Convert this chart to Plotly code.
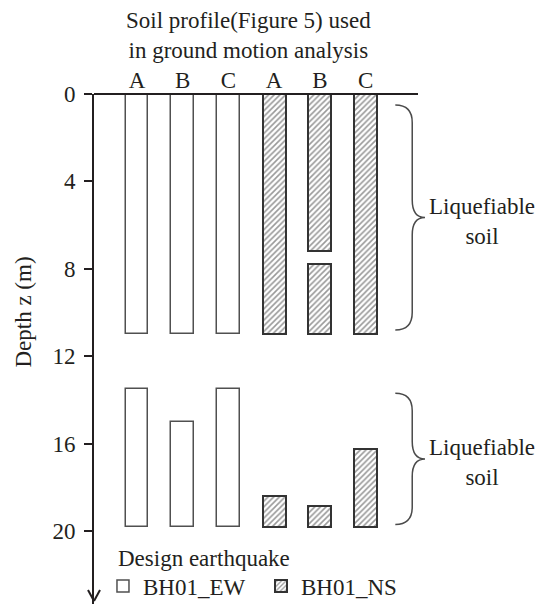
import plotly.graph_objects as go

# Soil profile columns and their depth ranges (m)
profiles = ["A", "B", "C"]

ew_profile = ["A", "A", "B", "B", "C", "C"]
ew_top = [0.0, 13.5, 0.0, 15.0, 0.0, 13.5]
ew_bottom = [11.0, 19.8, 11.0, 19.8, 11.0, 19.8]

ns_profile = ["A", "A", "B", "B", "B", "C", "C"]
ns_top = [0.0, 18.4, 0.0, 7.8, 18.85, 0.0, 16.25]
ns_bottom = [11.0, 19.8, 7.2, 11.0, 19.8, 11.0, 19.8]

# Liquefiable soil zones marked with braces (top, bottom depth)
liq_zones = [(0.5, 10.8), (13.7, 19.7)]

depth_ticks = [0, 4, 8, 12, 16, 20]

INK = "#231f20"
FONT = "Liberation Serif"
FS = 23

col_of = {p: i for i, p in enumerate(profiles)}
ew_x = [col_of[p] for p in ew_profile]
ns_x = [3 + col_of[p] for p in ns_profile]

fig = go.Figure()
fig.add_trace(go.Bar(
    x=ew_x, y=[b - t for t, b in zip(ew_top, ew_bottom)], base=ew_top,
    width=0.5, name="BH01_EW",
    marker=dict(color="white", line=dict(color="#505050", width=1.5)),
))
fig.add_trace(go.Bar(
    x=ns_x, y=[b - t for t, b in zip(ns_top, ns_bottom)], base=ns_top,
    width=0.5, name="BH01_NS",
    marker=dict(color="white", line=dict(color="#333333", width=2),
                pattern=dict(shape="/", fgcolor="#333333", bgcolor="white",
                             size=4, solidity=0.4)),
))

# Curly braces beside the columns
xs, xe, xt, r = 6.02, 5.65, 6.30, 0.8
for top, bot in liq_zones:
    mid = (top + bot) / 2
    path = (f"M {xe},{top} Q {xs},{top} {xs},{top + r} L {xs},{mid - r} "
            f"Q {xs},{mid} {xt},{mid} Q {xs},{mid} {xs},{mid + r} "
            f"L {xs},{bot - r} Q {xs},{bot} {xe},{bot}")
    fig.add_shape(type="path", path=path, xref="x", yref="y",
                  line=dict(color="#4a4a4a", width=1.5))
    fig.add_annotation(x=7.55, y=mid, xref="x", yref="y", xanchor="center",
                       text="Liquefiable<br>soil", showarrow=False,
                       font=dict(family=FONT, size=FS, color=INK), yshift=-4)

# Ground surface line at depth 0
fig.add_shape(type="line", xref="paper", yref="paper", x0=0, x1=0.7216,
              y0=1, y1=1, line=dict(color=INK, width=2))
# Arrow head at the bottom of the depth axis
for dx in (-6, 6):
    fig.add_shape(type="line", xref="paper", yref="paper",
                  xsizemode="pixel", ysizemode="pixel", xanchor=0, yanchor=0,
                  x0=dx, x1=0, y0=14, y1=3, line=dict(color=INK, width=2))

fig.add_annotation(x=-0.158, y=10.0, xref="paper", yref="y",
                   xanchor="center", yanchor="middle",
                   text="Depth z (m)", textangle=-90, showarrow=False,
                   font=dict(family=FONT, size=FS, color=INK))

# Chart heading
fig.add_annotation(x=0.3452, y=1.1147, xref="paper", yref="paper",
                   xanchor="center", yanchor="middle",
                   text="Soil profile(Figure 5) used<br>in ground motion analysis",
                   showarrow=False, font=dict(family=FONT, size=FS, color=INK))

# Legend heading
fig.add_annotation(x=0.049, y=21.24, xref="paper", yref="y",
                   xanchor="left", yanchor="middle",
                   text="Design earthquake", showarrow=False,
                   font=dict(family=FONT, size=FS, color=INK))

fig.update_layout(
    width=543, height=604,
    margin=dict(l=94, r=0, t=94, b=0, autoexpand=False),
    paper_bgcolor="white", plot_bgcolor="white",
    barmode="overlay", bargap=0,
    font=dict(family=FONT, size=FS, color=INK),
    xaxis=dict(range=[-0.94, 8.88], side="top", showgrid=False, zeroline=False,
               showline=False, ticks="", tickvals=list(range(6)),
               ticktext=profiles + profiles, ticklabelstandoff=0),
    yaxis=dict(range=[23.34, 0], showgrid=False, zeroline=False,
               showline=True, linecolor=INK, linewidth=2,
               ticks="outside", ticklen=8, tickwidth=1.5, tickcolor=INK,
               tickvals=depth_ticks, ticklabelstandoff=4),
    showlegend=True,
    legend=dict(orientation="h", x=0.02, y=0.0353, xanchor="left",
                yanchor="middle", bgcolor="rgba(0,0,0,0)",
                font=dict(family=FONT, size=FS, color=INK),
                itemwidth=30, entrywidth=113, entrywidthmode="pixels",
                tracegroupgap=0),
)

fig.write_html("out.html")
